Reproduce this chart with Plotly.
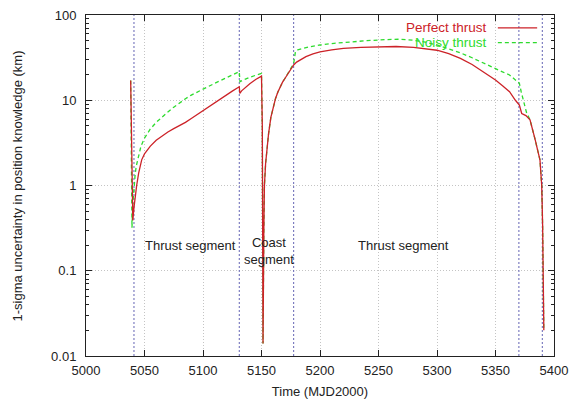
import math
import plotly.graph_objects as go

# ---- data ----
perfect_t = [5038.2, 5040.0, 5041.0, 5042.0, 5043.3, 5045.0, 5047.6, 5050, 5055, 5060, 5065, 5070,
             5075, 5080, 5085, 5090, 5095, 5100, 5105, 5110, 5115, 5120, 5125, 5131.0,
             5131.5, 5133, 5135, 5140, 5145, 5150, 5150.7, 5151.3, 5152.0, 5152.5, 5153.5,
             5154.5, 5156, 5158, 5160, 5162, 5164, 5166, 5168, 5170, 5173, 5177.5, 5180, 5184,
             5188, 5194, 5200, 5210, 5220, 5235, 5250, 5265, 5280, 5290, 5300, 5310, 5320,
             5330, 5337, 5345, 5350, 5356, 5362, 5367, 5370.4, 5372.4, 5376, 5379.5, 5381,
             5382.5, 5384, 5386, 5388, 5389.5, 5390.3, 5391.3]
perfect_v = [17, 0.39, 0.55, 0.75, 1.0, 1.4, 2.0, 2.35, 2.9, 3.4, 3.85, 4.25,
             4.65, 5.05, 5.5, 6.1, 6.8, 7.5, 8.4, 9.3, 10.4, 11.5, 12.8, 14.4,
             12.0, 12.9, 13.7, 15.6, 17.5, 19.2, 5.0, 0.014, 0.3, 1.0, 1.8,
             2.6, 4.0, 6.3, 8.5, 10.5, 12.5, 14.5, 16.3, 18.0, 21.0, 25.9, 28.0, 30.5,
             32.5, 35.0, 37.0, 39.0, 40.5, 41.8, 42.5, 42.7, 41.8, 40.5, 38.6, 35.3, 31.0,
             26.3, 22.8, 19.3, 17.3, 14.8, 12.6, 10.0, 8.8, 7.0, 6.6, 5.9, 5.0,
             4.2, 3.4, 2.6, 2.0, 1.0, 0.33, 0.02]

noisy_t = [5038.2, 5039.3, 5040.0, 5041.0, 5042.0, 5043.0, 5044.7, 5047, 5050, 5055, 5060, 5065,
           5070, 5075, 5080, 5085, 5090, 5095, 5100, 5110, 5120, 5131.0, 5131.6, 5134, 5140,
           5145, 5150, 5150.7, 5151.3, 5152.0, 5152.5, 5153.5, 5154.5, 5156, 5158, 5160, 5162,
           5164, 5166, 5168, 5170, 5173, 5177.5, 5179, 5181, 5190, 5200, 5212, 5225, 5240,
           5255, 5268, 5280, 5290, 5300, 5310, 5320, 5330, 5337, 5345, 5350, 5356, 5362, 5367,
           5370.4, 5372, 5374, 5376.6, 5379.5, 5381, 5382.5, 5384, 5386, 5388, 5389.5,
           5390.3, 5391.3]
noisy_v = [17, 0.32, 0.6, 1.0, 1.35, 1.7, 2.2, 2.9, 3.6, 4.6, 5.5, 6.4,
           7.3, 8.3, 9.4, 10.4, 11.5, 12.5, 13.6, 15.8, 18.4, 21.6, 16.5, 17.2, 18.6,
           19.8, 20.7, 5.0, 0.014, 0.3, 1.0, 1.8, 2.6, 4.0, 6.3, 8.5, 10.5,
           12.5, 14.5, 16.3, 18.0, 21.0, 27.0, 37.0, 39.0, 42.0, 44.5, 46.5, 48.5, 50.0,
           51.3, 52.0, 50.5, 48.0, 44.5, 40.0, 36.0, 31.5, 28.3, 25.5, 23.7, 21.5, 19.8, 17.3,
           15.8, 12.5, 9.5, 7.1, 5.9, 5.0, 4.2, 3.4, 2.6, 2.0, 1.0,
           0.33, 0.02]

segment_bounds = [5041, 5131, 5177.5, 5370, 5390]
segment_labels = ["Thrust segment", "Coast<br>segment", "Thrust segment"]
label_x = [5089.6, 5156.5, 5271.2]
label_y = [0.2, 0.172, 0.2]

x_ticks = [5000, 5050, 5100, 5150, 5200, 5250, 5300, 5350, 5400]
y_ticks = [0.01, 0.1, 1, 10, 100]
y_tick_text = ["0.01", "0.1", "1", "10", "100"]

RED = "#cc2228"
GREEN = "#2edb2e"
FONT = "Liberation Sans, Arial, sans-serif"
TXT = "#222222"

fig = go.Figure()

for xb in segment_bounds:
    fig.add_trace(go.Scatter(x=[xb, xb], y=[0.01, 100], mode="lines",
                             line=dict(color="#6464b4", width=1, dash="2px,2px"),
                             hoverinfo="skip", showlegend=False))

fig.add_trace(go.Scatter(x=noisy_t, y=noisy_v, mode="lines", name="Noisy thrust",
                         line=dict(color=GREEN, width=1.3, dash="4px,3px"), showlegend=False))
fig.add_trace(go.Scatter(x=perfect_t, y=perfect_v, mode="lines", name="Perfect thrust",
                         line=dict(color=RED, width=1.3), showlegend=False))

for txt, xv, yv in zip(segment_labels, label_x, label_y):
    fig.add_annotation(x=xv, y=math.log10(yv), text=txt, showarrow=False,
                       font=dict(family=FONT, size=13, color=TXT))

# legend drawn at top right (text left, sample right)
legend_items = [("Perfect thrust", RED, "solid", 0.962), ("Noisy thrust", GREEN, "4px,3px", 0.919)]
for name, col, dash, yp in legend_items:
    fig.add_annotation(xref="paper", yref="paper", x=0.861, y=yp, xanchor="right", yanchor="middle",
                       text=name, showarrow=False, font=dict(family=FONT, size=13.5, color=col))
    fig.add_shape(type="line", xref="paper", yref="paper", x0=0.880, x1=0.964, y0=yp, y1=yp,
                  line=dict(color=col, width=1.3, dash=dash))

# y axis title placed as rotated text
fig.add_annotation(xref="paper", yref="paper", x=-0.1453, y=0.5, xanchor="center", yanchor="middle",
                   text="1-sigma uncertainty in position knowledge (km)", textangle=-90,
                   showarrow=False, font=dict(family=FONT, size=13, color=TXT))

minor_vals = [m * 10 ** e for e in range(-2, 2) for m in range(2, 10)]

fig.update_layout(
    width=575, height=400,
    margin=dict(l=86, r=21, t=15, b=44),
    paper_bgcolor="white", plot_bgcolor="white",
    font=dict(family=FONT, size=13, color=TXT),
    xaxis=dict(range=[5000, 5400], tickvals=x_ticks, ticks="inside", ticklen=6,
               tickcolor="#222", showline=True, linecolor="#222", linewidth=1, mirror="ticks",
               showgrid=True, gridcolor="#c4c4c4", griddash="1px,2px", gridwidth=1,
               zeroline=False, ticklabelstandoff=2,
               title=dict(text="Time (MJD2000)", standoff=10, font=dict(size=13)),
               automargin=False),
    yaxis=dict(type="log", range=[-2, 2], tickvals=y_ticks, ticktext=y_tick_text,
               ticks="inside", ticklen=6, tickcolor="#222", showline=True, linecolor="#222",
               linewidth=1, mirror="ticks", showgrid=True, gridcolor="#c4c4c4",
               griddash="1px,2px", gridwidth=1, zeroline=False, ticklabelstandoff=6,
               minor=dict(tickvals=minor_vals, ticks="inside", ticklen=3, tickcolor="#222",
                          showgrid=False),
               automargin=False),
)

fig.write_html("out.html")
